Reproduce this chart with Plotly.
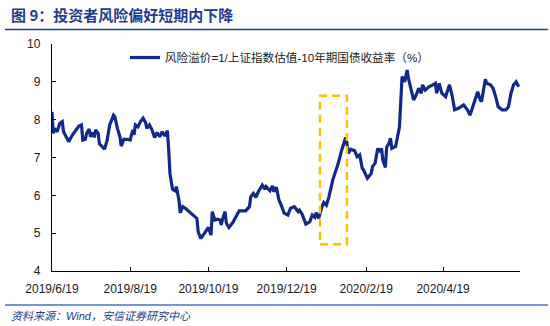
import plotly.graph_objects as go

# ---- data ----
dates = [
    "2019-06-19", "2019-06-20", "2019-06-21", "2019-06-23", "2019-06-25", "2019-06-27", "2019-06-28", "2019-06-30",
    "2019-07-02", "2019-07-05", "2019-07-08", "2019-07-10", "2019-07-12", "2019-07-13", "2019-07-15", "2019-07-16",
    "2019-07-18", "2019-07-19", "2019-07-21", "2019-07-22", "2019-07-23", "2019-07-25", "2019-07-26", "2019-07-28",
    "2019-07-30", "2019-08-01", "2019-08-03", "2019-08-06", "2019-08-07", "2019-08-09", "2019-08-11", "2019-08-12",
    "2019-08-14", "2019-08-17", "2019-08-19", "2019-08-21", "2019-08-22", "2019-08-23", "2019-08-25", "2019-08-27",
    "2019-08-29", "2019-08-31", "2019-09-01", "2019-09-03", "2019-09-05", "2019-09-07", "2019-09-09", "2019-09-11",
    "2019-09-13", "2019-09-15", "2019-09-17", "2019-09-18", "2019-09-19", "2019-09-21", "2019-09-23", "2019-09-24",
    "2019-09-26", "2019-09-27", "2019-09-29", "2019-10-01", "2019-10-04", "2019-10-10", "2019-10-11", "2019-10-13",
    "2019-10-16", "2019-10-18", "2019-10-19", "2019-10-21", "2019-10-22", "2019-10-24", "2019-10-26", "2019-10-28",
    "2019-10-29", "2019-10-30", "2019-11-01", "2019-11-02", "2019-11-04", "2019-11-07", "2019-11-10", "2019-11-12",
    "2019-11-17", "2019-11-20", "2019-11-21", "2019-11-23", "2019-11-25", "2019-11-27", "2019-11-30", "2019-12-02",
    "2019-12-03", "2019-12-06", "2019-12-08", "2019-12-09", "2019-12-11", "2019-12-13", "2019-12-15", "2019-12-17",
    "2019-12-20", "2019-12-22", "2019-12-25", "2019-12-28", "2019-12-29", "2019-12-31", "2020-01-03", "2020-01-06",
    "2020-01-08", "2020-01-10", "2020-01-11", "2020-01-13", "2020-01-16", "2020-01-17", "2020-01-19", "2020-01-21",
    "2020-01-24", "2020-01-28", "2020-01-31", "2020-02-03", "2020-02-04", "2020-02-05", "2020-02-07", "2020-02-10",
    "2020-02-12", "2020-02-14", "2020-02-16", "2020-02-17", "2020-02-20", "2020-02-23", "2020-02-24", "2020-02-26",
    "2020-02-28", "2020-03-01", "2020-03-02", "2020-03-03", "2020-03-05", "2020-03-06", "2020-03-08", "2020-03-09",
    "2020-03-10", "2020-03-13", "2020-03-16", "2020-03-17", "2020-03-18", "2020-03-20", "2020-03-21", "2020-03-22",
    "2020-03-23", "2020-03-25", "2020-03-27", "2020-03-29", "2020-03-31", "2020-04-02", "2020-04-03", "2020-04-05",
    "2020-04-08", "2020-04-11", "2020-04-13", "2020-04-14", "2020-04-16", "2020-04-18", "2020-04-21", "2020-04-24",
    "2020-04-26", "2020-04-28", "2020-05-01", "2020-05-05", "2020-05-08", "2020-05-10", "2020-05-13", "2020-05-16",
    "2020-05-18", "2020-05-19", "2020-05-22", "2020-05-23", "2020-05-26", "2020-05-28", "2020-05-30", "2020-06-01",
    "2020-06-04", "2020-06-07", "2020-06-09", "2020-06-11", "2020-06-13", "2020-06-15", "2020-06-17",
]
risk_premium = [
    8.21, 7.64, 7.77, 7.68, 7.90, 7.95, 7.68, 7.55,
    7.42, 7.60, 7.73, 7.83, 7.86, 7.46, 7.48, 7.64,
    7.75, 7.55, 7.66, 7.53, 7.73, 7.64, 7.36, 7.30,
    7.22, 7.46, 7.86, 8.12, 8.08, 7.77, 7.55, 7.30,
    7.48, 7.48, 7.46, 7.73, 7.60, 7.86, 7.81, 7.95,
    8.04, 7.92, 7.77, 7.86, 7.73, 7.53, 7.66, 7.55,
    7.68, 7.57, 7.71, 7.20, 6.58, 6.16, 6.12, 6.23,
    5.88, 5.54, 5.70, 5.66, 5.57, 5.39, 5.04, 4.86,
    5.00, 5.13, 5.15, 4.95, 5.57, 5.35, 5.37, 5.35,
    5.22, 5.37, 5.57, 5.26, 5.15, 5.28, 5.45, 5.59,
    5.59, 5.70, 5.96, 6.05, 5.95, 6.10, 6.27, 6.16,
    6.23, 6.12, 6.25, 6.10, 6.21, 5.88, 5.72, 5.53,
    5.48, 5.66, 5.70, 5.57, 5.61, 5.51, 5.24, 5.30,
    5.48, 5.42, 5.54, 5.39, 5.74, 5.81, 5.74, 5.96,
    6.41, 6.82, 7.20, 7.53, 7.38, 7.11, 7.22, 7.18,
    7.02, 7.07, 6.71, 6.67, 6.45, 6.58, 6.76, 6.85,
    7.24, 7.15, 7.24, 6.93, 6.74, 7.27, 7.39, 7.51,
    7.24, 7.29, 7.81, 8.74, 9.14, 9.00, 9.14, 9.31,
    9.09, 8.78, 8.52, 8.65, 8.83, 8.70, 8.92, 8.78,
    8.87, 8.92, 8.96, 8.70, 8.96, 8.70, 8.61, 8.92,
    8.65, 8.26, 8.30, 8.39, 8.26, 8.12, 8.43, 8.74,
    8.52, 8.48, 9.07, 8.96, 8.92, 8.83, 8.61, 8.34,
    8.26, 8.26, 8.34, 8.70, 8.92, 9.00, 8.87,
]
tick_dates = ["2019-06-19", "2019-08-19", "2019-10-19", "2019-12-19", "2020-02-19", "2020-04-19"]
tick_labels = ["2019/6/19", "2019/8/19", "2019/10/19", "2019/12/19", "2020/2/19", "2020/4/19"]
y_ticks = [4, 5, 6, 7, 8, 9, 10]
series_name = "风险溢价=1/上证指数估值-10年期国债收益率（%）"
highlight_dates = ["2020-01-14", "2020-02-04"]
highlight_values = [4.71, 8.63]
title_text = "图 9：投资者风险偏好短期内下降"
source_text = "资料来源：Wind，安信证券研究中心"

LINE = "#12298C"
TITLE_BLUE = "#1D3C8F"
BASE_FONT = "Liberation Sans, Arial, Noto Sans CJK SC, sans-serif"
CJK_FONT = "Noto Sans CJK SC, sans-serif"

fig = go.Figure()
fig.add_trace(go.Scatter(
    x=dates, y=risk_premium, mode="lines", name=series_name,
    line=dict(color=LINE, width=3.2),
))

L, R, T, B = 52, 30, 44, 55
W, H = 550, 326
pw, ph = W - L - R, H - T - B

def px_x(p):
    return (p - L) / pw

def px_y(p):
    return (H - B - p) / ph

fig.update_layout(
    width=W, height=H,
    margin=dict(l=L, r=R, t=T, b=B, pad=0),
    paper_bgcolor="white", plot_bgcolor="white",
    font=dict(family=BASE_FONT, size=12, color="#1a1a1a"),
    showlegend=True,
    legend=dict(
        x=px_x(125), y=px_y(43), xanchor="left", yanchor="top",
        bgcolor="rgba(0,0,0,0)", borderwidth=0,
        font=dict(family=BASE_FONT, size=11.6, color="#1a1a1a"),
    ),
    xaxis=dict(
        type="date", range=["2019-06-19", "2020-06-18"],
        tickmode="array", tickvals=tick_dates, ticktext=tick_labels,
        ticks="inside", ticklen=4, tickwidth=1, tickcolor="black",
        showline=True, linecolor="black", linewidth=1.3,
        showgrid=False, zeroline=False,
        tickfont=dict(size=12, color="#1a1a1a"),
        ticklabelstandoff=6,
    ),
    yaxis=dict(
        range=[4, 10], tickmode="array", tickvals=y_ticks,
        ticks="inside", ticklen=4, tickwidth=1, tickcolor="black",
        showline=True, linecolor="black", linewidth=1.3,
        showgrid=False, zeroline=False,
        tickfont=dict(size=12, color="#1a1a1a"),
        ticklabelstandoff=8,
    ),
)

# highlighted period (dashed box)
fig.add_shape(
    type="rect", xref="x", yref="y",
    x0=highlight_dates[0], x1=highlight_dates[1],
    y0=highlight_values[0], y1=highlight_values[1],
    line=dict(color="#FFC000", width=2.5, dash="8px,5px"),
    fillcolor="rgba(0,0,0,0)", layer="above",
)

# title rule & footer rule
fig.add_shape(type="line", xref="paper", yref="paper",
              x0=px_x(5), x1=px_x(548), y0=px_y(29.5), y1=px_y(29.5),
              line=dict(color=TITLE_BLUE, width=1.6))
fig.add_shape(type="line", xref="paper", yref="paper",
              x0=px_x(5), x1=px_x(548), y0=px_y(305), y1=px_y(305),
              line=dict(color="#4A72C4", width=1.3))

fig.add_annotation(
    text="<b>" + title_text + "</b>", xref="paper", yref="paper",
    x=px_x(9), y=px_y(15), xanchor="left", yanchor="middle", showarrow=False,
    font=dict(family=CJK_FONT, size=15, color=TITLE_BLUE),
)
fig.add_annotation(
    text=source_text, xref="paper", yref="paper",
    x=px_x(9), y=px_y(316), xanchor="left", yanchor="middle", showarrow=False,
    font=dict(family=BASE_FONT, size=11, color=TITLE_BLUE, style="italic"),
)

fig.write_html("out.html")
